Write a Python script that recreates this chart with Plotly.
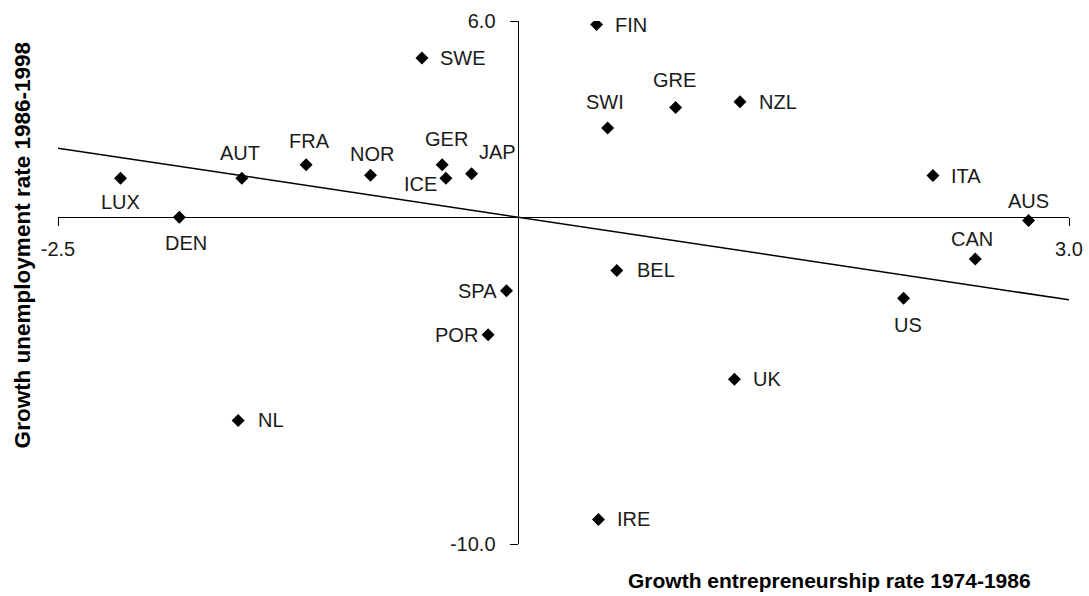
import plotly.graph_objects as go

# ---- data ----
countries = ["FIN", "SWE", "GRE", "NZL", "SWI", "FRA", "NOR", "GER", "ICE", "JAP",
             "AUT", "LUX", "DEN", "ITA", "AUS", "CAN", "BEL", "US", "SPA", "POR",
             "UK", "NL", "IRE"]
entrepreneurship_growth = [0.43, -0.52, 0.86, 1.21, 0.49, -1.15, -0.80, -0.41, -0.39, -0.25,
                           -1.50, -2.16, -1.84, 2.26, 2.78, 2.49, 0.54, 2.10, -0.06, -0.16,
                           1.18, -1.52, 0.44]
unemployment_growth = [5.89, 4.87, 3.35, 3.53, 2.73, 1.60, 1.28, 1.60, 1.19, 1.33,
                       1.19, 1.19, 0.00, 1.27, -0.10, -1.28, -1.63, -2.48, -2.25, -3.60,
                       -4.96, -6.22, -9.25]
trend_x = [-2.5, 3.0]
trend_y = [2.11, -2.53]
x_ticks = [-2.5, 3.0]
x_tick_text = ["-2.5", "3.0"]
y_ticks = [-10.0, 6.0]
y_tick_text = ["-10.0", "6.0"]

# ---- label placement (anchor, dx px, dy px) ----
label_place = {
    "FIN": ("left", 16, 0), "SWE": ("left", 16, 0), "GRE": ("center", -1, 28),
    "NZL": ("left", 17, 0), "SWI": ("center", -3, 26), "FRA": ("center", 3, 24),
    "NOR": ("center", 2, 21), "GER": ("center", 4, 26), "ICE": ("right", -7, -6),
    "JAP": ("left", 5, 22), "AUT": ("center", -2, 25), "LUX": ("center", 0, -24),
    "DEN": ("center", 7, -26), "ITA": ("left", 16, 0), "AUS": ("center", 0, 19),
    "CAN": ("center", -3, 20), "BEL": ("left", 18, 0), "US": ("center", 4, -27),
    "SPA": ("right", -8, 0), "POR": ("right", -8, 0), "UK": ("left", 17, 0),
    "NL": ("left", 18, 0), "IRE": ("left", 17, 0),
}

FONT = "Liberation Sans, Arial, sans-serif"

fig = go.Figure()
fig.add_trace(go.Scatter(x=trend_x, y=trend_y, mode="lines",
                         line=dict(color="black", width=1.5),
                         showlegend=False, hoverinfo="skip"))
fig.add_trace(go.Scatter(x=entrepreneurship_growth, y=unemployment_growth,
                         mode="markers", text=countries,
                         marker=dict(symbol="diamond", size=10, color="black"),
                         showlegend=False))

annotations = []
for name, xv, yv in zip(countries, entrepreneurship_growth, unemployment_growth):
    anchor, dx, dy = label_place[name]
    annotations.append(dict(x=xv, y=yv, xref="x", yref="y", text=name,
                            showarrow=False, xanchor=anchor, yanchor="middle",
                            xshift=dx, yshift=dy,
                            font=dict(family=FONT, size=20, color="#1a1a1a")))

annotations.append(dict(x=-0.0356, y=0.571, xref="paper", yref="paper",
                        text="<b>Growth unemployment rate 1986-1998</b>",
                        textangle=-90, showarrow=False, xanchor="center", yanchor="middle",
                        font=dict(family=FONT, size=22.5, color="black")))
annotations.append(dict(x=0.763, y=-0.069, xref="paper", yref="paper",
                        text="<b>Growth entrepreneurship rate 1974-1986</b>",
                        showarrow=False, xanchor="center", yanchor="middle",
                        font=dict(family=FONT, size=21, color="black")))

fig.update_layout(
    width=1089, height=596,
    margin=dict(l=58, r=20, t=21, b=52, autoexpand=False),
    paper_bgcolor="white", plot_bgcolor="white",
    annotations=annotations,
    xaxis=dict(range=[-2.5, 3.0], anchor="free", position=0.625, automargin=False,
               showgrid=False, zeroline=False, showline=True,
               linecolor="black", linewidth=1,
               ticks="outside", ticklen=8, tickwidth=1, tickcolor="black",
               tickvals=x_ticks, ticktext=x_tick_text, ticklabelstandoff=6,
               tickfont=dict(family=FONT, size=20, color="#1a1a1a")),
    yaxis=dict(range=[-10, 6], anchor="free", position=2.5 / 5.5, automargin=False,
               showgrid=False, zeroline=False, showline=True,
               linecolor="black", linewidth=1,
               ticks="outside", ticklen=8, tickwidth=1, tickcolor="black",
               tickvals=y_ticks, ticktext=y_tick_text, ticklabelstandoff=10,
               tickfont=dict(family=FONT, size=20, color="#1a1a1a")),
)

fig.write_html("out.html",
               config={"displayModeBar": False},
               post_script=("document.documentElement.style.margin='0';"
                            "document.documentElement.style.overflow='hidden';"
                            "document.body.style.margin='0';"
                            "document.body.style.padding='0';"
                            "document.body.style.overflow='hidden';"))
